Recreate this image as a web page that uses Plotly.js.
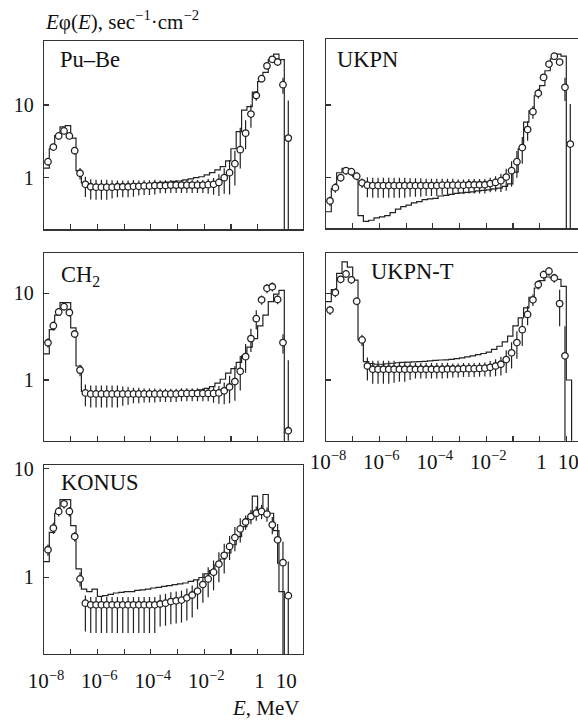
<!DOCTYPE html>
<html><head><meta charset="utf-8">
<script src="https://cdn.plot.ly/plotly-3.0.1.min.js"></script>
<style>html,body{margin:0;padding:0;overflow:hidden;background:#fff;width:578px;height:725px}</style>
</head><body><div id="chart" style="width:600px;height:725px"></div>
<script>
// Energy grid (MeV) of the measured points
const energy = [1.41e-8,2.24e-8,3.55e-8,5.62e-8,8.91e-8,
 1.41e-7,2.24e-7,3.55e-7,5.62e-7,8.91e-7,
 1.41e-6,2.24e-6,3.55e-6,5.62e-6,8.91e-6,
 1.41e-5,2.24e-5,3.55e-5,5.62e-5,8.91e-5,
 1.41e-4,2.24e-4,3.55e-4,5.62e-4,8.91e-4,
 1.41e-3,2.24e-3,3.55e-3,5.62e-3,8.91e-3,
 0.0141,0.0224,0.0355,0.0562,0.0891,
 0.141,0.224,0.355,0.562,0.891,
 1.41,2.24,3.55,5.62,8.91,14.1];
// Bin edges (MeV) of the calculated histograms
const edges = [1e-8,1.58e-8,2.51e-8,3.98e-8,6.31e-8,
 1e-7,1.58e-7,2.51e-7,3.98e-7,6.31e-7,
 1e-6,1.58e-6,2.51e-6,3.98e-6,6.31e-6,
 1e-5,1.58e-5,2.51e-5,3.98e-5,6.31e-5,
 1e-4,1.58e-4,2.51e-4,3.98e-4,6.31e-4,
 1e-3,1.58e-3,2.51e-3,3.98e-3,6.31e-3,
 0.01,0.0158,0.0251,0.0398,0.0631,
 0.1,0.158,0.251,0.398,0.631,
 1,1.58,2.51,3.98,6.31,10,15.8,25.1];

const panelNames = ['Pu–Be','UKPN','CH<sub>2</sub>','UKPN-T','KONUS'];

// ---- Pu-Be ----
const pubePts = [1.66,2.64,3.75,4.39,3.75, 2.35,1.15,0.81,0.75,0.74, 0.74,0.74,0.74,0.75,0.75, 0.75,0.76,0.76,0.77,0.77, 0.78,0.78,0.78,0.79,0.79, 0.79,0.79,0.79,0.79,0.79, 0.80,0.81,0.86,1.0,1.17, 1.56,2.43,4.1,7.5,13.5, 23,34.5,42.5,39,19, 3.5];
const pubeErrUp = [12,12,12,10,10, 12,18,27,27,27, 27,27,25,22,22, 22,22,20,20,20, 20,18,18,18,18, 18,18,18,18,18, 20,22,30,35,50, 50,100,50,35,15, 10,10,10,10,25, 230];
const pubeErrDn = [12,12,12,10,10, 12,18,33,33,33, 33,33,30,28,28, 28,28,25,25,25, 25,22,22,22,22, 22,22,22,22,22, 25,28,35,40,50, 50,45,40,35,15, 10,10,10,10,25, 100];
const pubeHist = [1.35,2.5,3.8,5.0,5.2, 3.5,1.25,0.85,0.78,0.77, 0.77,0.77,0.77,0.78,0.78, 0.79,0.79,0.80,0.81,0.82, 0.83,0.84,0.86,0.87,0.89, 0.90,0.93,0.96,1.0,1.03, 1.09,1.17,1.28,1.42,1.7, 2.5,4.3,8.5,9.5,15, 21,28,42,50,42, 0.001,0.001];

// ---- UKPN ----
const ukpnPts = [0.48,0.73,1.0,1.25,1.21, 1.05,0.85,0.79,0.78,0.78, 0.78,0.78,0.78,0.78,0.78, 0.78,0.78,0.78,0.78,0.78, 0.78,0.79,0.79,0.79,0.79, 0.79,0.80,0.80,0.80,0.80, 0.83,0.86,0.91,1.02,1.25, 1.66,2.6,4.6,8.1,14.5, 24,36.6,47,39,17.5, 2.9];
const ukpnErrUp = [15,15,12,12,12, 12,15,28,28,28, 28,28,28,28,28, 26,26,26,24,24, 24,22,22,22,20, 20,20,20,20,20, 20,22,25,30,35, 40,40,30,20,15, 10,10,10,10,35, 255];
const ukpnErrDn = [15,15,12,12,12, 12,15,32,32,32, 32,32,32,32,32, 30,30,30,28,28, 28,26,26,26,24, 24,24,24,24,24, 24,25,30,35,40, 40,40,30,20,15, 10,10,10,10,35, 100];
const ukpnHist = [0.34,0.71,1.17,1.35,1.3, 1.03,0.3,0.25,0.26,0.28, 0.29,0.30,0.33,0.37,0.40, 0.42,0.45,0.47,0.50,0.51, 0.52,0.56,0.57,0.59,0.61, 0.62,0.63,0.64,0.66,0.67, 0.68,0.70,0.72,0.76,0.82, 1.19,2.5,5.8,8.3,13.4, 18.5,29.6,43,50,47, 0.001,0.001];

// ---- CH2 ----
const ch2Pts = [2.69,4.23,6.1,7.0,6.0, 3.39,1.30,0.71,0.69,0.69, 0.69,0.69,0.69,0.69,0.69, 0.69,0.69,0.69,0.69,0.69, 0.69,0.69,0.69,0.69,0.69, 0.70,0.70,0.70,0.70,0.70, 0.70,0.70,0.71,0.75,0.83, 0.96,1.26,1.86,3.0,5.1, 8.4,11.4,11.9,8.5,2.7, 0.26];
const ch2ErrUp = [12,12,10,10,10, 10,15,25,25,25, 25,25,25,25,22, 20,18,18,16,16, 16,15,15,15,15, 15,15,15,15,15, 15,18,20,25,35, 50,50,40,30,25, 12,12,12,12,25, 550];
const ch2ErrDn = [12,12,10,10,10, 10,15,30,30,30, 30,30,30,30,27, 25,22,22,20,20, 20,19,19,19,19, 19,19,19,19,19, 19,22,25,30,35, 40,40,35,30,25, 12,12,12,12,25, 100];
const ch2Hist = [2.0,3.8,5.6,7.8,7.8, 4.0,1.45,0.74,0.72,0.71, 0.71,0.71,0.71,0.71,0.71, 0.71,0.71,0.71,0.71,0.71, 0.71,0.72,0.72,0.72,0.72, 0.72,0.73,0.74,0.75,0.77, 0.80,0.84,0.92,1.02,1.2, 1.35,1.6,1.9,2.4,3.0, 4.2,5.6,8.0,9.8,10.8, 0.001,0.001];

// ---- UKPN-T ----
const ukpntPts = [6.4,10.2,14.5,16.7,14.3, 8.1,2.9,1.45,1.33,1.33, 1.33,1.33,1.33,1.33,1.33, 1.33,1.33,1.33,1.33,1.33, 1.33,1.33,1.34,1.34,1.34, 1.35,1.35,1.35,1.36,1.37, 1.40,1.45,1.52,1.72,2.06, 2.7,3.8,5.7,8.4,12.6, 16.4,18,15,7.6,1.9, null];
const ukpntErrUp = [12,12,10,10,10, 10,15,25,25,25, 25,25,25,22,22, 20,18,18,18,18, 18,18,18,16,16, 16,16,16,16,16, 18,20,22,28,32, 35,35,25,15,12, 12,12,12,45,120, null];
const ukpntErrDn = [12,12,10,10,10, 10,15,32,32,32, 32,32,30,28,28, 25,22,22,22,22, 22,22,22,20,20, 20,20,20,20,20, 22,24,26,30,34, 35,35,25,15,12, 12,12,12,45,100, null];
const ukpntHist = [8,11,17,23,20, 14.2,2.9,1.63,1.55,1.52, 1.52,1.54,1.56,1.58,1.6, 1.61,1.62,1.63,1.64,1.66, 1.68,1.70,1.71,1.73,1.76, 1.8,1.85,1.9,1.96,2.02, 2.1,2.25,2.45,2.75,3.2, 4.2,5.2,6.8,9.0,11.5, 14,15.4,15,14.5,12, 1.0,0.001];

// ---- KONUS ----
const konusPts = [1.80,2.85,4.05,4.76,4.05, 2.38,0.97,0.58,0.56,0.56, 0.56,0.56,0.56,0.56,0.56, 0.56,0.56,0.56,0.56,0.56, 0.56,0.57,0.58,0.60,0.61, 0.62,0.65,0.69,0.75,0.86, 0.97,1.12,1.33,1.6,1.93, 2.33,2.8,3.24,3.64,3.91, 4.05,3.83,3.05,2.22,1.37, 0.68];
const konusErrUp = [12,12,10,10,10, 10,15,18,18,18, 18,18,18,18,18, 18,18,18,18,18, 18,22,22,22,22, 22,22,22,28,28, 28,28,28,28,25, 25,25,15,15,15, 15,15,18,40,56, 106];
const konusErrDn = [12,12,10,10,10, 10,15,45,45,45, 45,45,45,45,45, 45,45,45,45,45, 45,38,38,38,38, 38,38,38,32,32, 32,32,32,32,25, 25,25,15,15,15, 15,15,18,40,100, 100];
const konusHist = [1.4,2.6,3.9,5.2,5.2, 3.0,1.2,0.78,0.74,0.78, 0.67,0.68,0.70,0.72,0.73, 0.74,0.74,0.76,0.77,0.78, 0.80,0.81,0.83,0.84,0.86, 0.875,0.89,0.92,0.95,1.0, 1.08,1.16,1.31,1.48,1.68, 2.0,2.38,2.94,3.5,5.6, 4.2,5.8,3.9,2.7,0.74, 0.001,0.001];

const xTickVals = [1e-8,1e-7,1e-6,1e-5,1e-4,1e-3,1e-2,1e-1,1,10];
const xTickText = ['10<sup>−8</sup>','','10<sup>−6</sup>','','10<sup>−4</sup>','','10<sup>−2</sup>','','1','10'];
const yTickVals = [1,10];
const yTickText = ['1','10'];

const panels = [
  {pts:pubePts, up:pubeErrUp, dn:pubeErrDn, hist:pubeHist},
  {pts:ukpnPts, up:ukpnErrUp, dn:ukpnErrDn, hist:ukpnHist},
  {pts:ch2Pts, up:ch2ErrUp, dn:ch2ErrDn, hist:ch2Hist},
  {pts:ukpntPts, up:ukpntErrUp, dn:ukpntErrDn, hist:ukpntHist},
  {pts:konusPts, up:konusErrUp, dn:konusErrDn, hist:konusHist}
];

// layout geometry (paper fractions)
const W = 600, H = 725;
const xDom = [[44/W,303/W],[326/W,585/W],[44/W,303/W],[326/W,585/W],[44/W,303/W]];
const yDom = [[1-229.3/H,1-40.7/H],[1-228.3/H,1-39.3/H],[1-440.7/H,1-252.7/H],[1-440.7/H,1-252.7/H],[1-654/H,1-465/H]];
const yRng = [[-0.71,1.884],[-0.696,1.904],[-0.70,1.468],[-0.70,1.468],[-0.704,1.035]];
const xStand = [0,0,0,2,8];

const ink = '#222';
const serif = 'Liberation Serif, Times New Roman, serif';
const traces = [];
const layout = {
  width: W, height: H, margin:{l:0,r:0,t:0,b:0},
  paper_bgcolor:'#fff', plot_bgcolor:'#fff', showlegend:false,
  font:{family:serif, color:'#111'},
  annotations: []
};

panels.forEach((p, n) => {
  const k = n + 1;
  const xa = 'x' + (k===1?'':k), ya = 'y' + (k===1?'':k);
  traces.push({
    x: edges, y: p.hist.concat([p.hist[p.hist.length-1]]),
    xaxis: xa, yaxis: ya, mode:'lines', line:{shape:'hv', color:ink, width:1.2},
    hoverinfo:'skip'
  });
  traces.push({
    x: energy, y: p.pts, xaxis: xa, yaxis: ya, mode:'markers',
    marker:{symbol:'circle', size:6.5, color:'#fff', line:{color:ink, width:1.3}},
    error_y:{type:'data', symmetric:false,
      array: p.pts.map((v,i)=> v==null?null: v*p.up[i]/100),
      arrayminus: p.pts.map((v,i)=> v==null?null: v*p.dn[i]/100),
      width:0, thickness:1.2, color:ink}
  });
  const xName = 'xaxis' + (k===1?'':k), yName = 'yaxis' + (k===1?'':k);
  layout[xName] = {
    type:'log', range:[-8,1.7], domain:xDom[n], anchor:ya,
    showline:true, mirror:true, linecolor:'#333', linewidth:1.2,
    ticks:'inside', ticklen:5, tickwidth:1.2, tickcolor:'#333',
    tickmode:'array', tickvals:xTickVals, ticktext:xTickText,
    showticklabels:(k===4||k===5), showgrid:false, zeroline:false,
    tickfont:{family:serif, size:21, color:'#111'}, ticklabelshift:2,
    ticklabelstandoff:xStand[n]
  };
  layout[yName] = {
    type:'log', range:yRng[n], domain:yDom[n], anchor:xa,
    showline:true, mirror:true, linecolor:'#333', linewidth:1.2,
    ticks:'inside', ticklen:5, tickwidth:1.2, tickcolor:'#333',
    tickmode:'array', tickvals:yTickVals, ticktext:yTickText,
    showticklabels:(k%2===1), showgrid:false, zeroline:false,
    tickfont:{family:serif, size:20, color:'#111'}, ticklabelstandoff:5
  };
});

const labelPos = [[58,60],[335,59],[59,276],[369,272],[59,482]];
labelPos.forEach((lp,n)=>{
  layout.annotations.push({text:panelNames[n], xref:'paper', yref:'paper',
    x:lp[0]/W, y:1-lp[1]/H, xanchor:'left', yanchor:'middle', showarrow:false,
    font:{family:serif, size:22.5, color:'#111'}});
});
layout.annotations.push({text:'<i>E</i>φ(<i>E</i>), sec<sup>−1</sup>·cm<sup>−2</sup>', xref:'paper', yref:'paper',
  x:43/W, y:1-21/H, xanchor:'left', yanchor:'middle', showarrow:false,
  font:{family:serif, size:21, color:'#111'}});
layout.annotations.push({text:'<i>E</i>, MeV', xref:'paper', yref:'paper',
  x:302/W, y:1-708/H, xanchor:'right', yanchor:'middle', showarrow:false,
  font:{family:serif, size:21, color:'#111'}});

Plotly.newPlot('chart', traces, layout, {staticPlot:true, displayModeBar:false});
</script></body></html>
